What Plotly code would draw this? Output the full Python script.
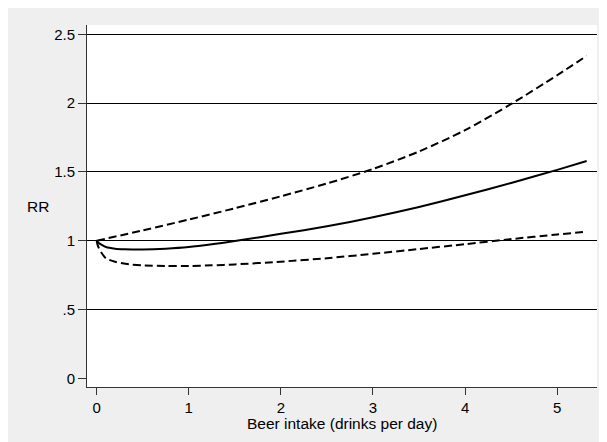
import plotly.graph_objects as go

# Beer intake (drinks per day)
x_rr = [0, 0.02, 0.05, 0.1, 0.2, 0.3, 0.5, 0.75, 1.0, 1.25, 1.5, 2.0, 2.5, 3.0, 3.5, 4.0, 4.5, 5.0, 5.32]
rr = [1.0, 0.985, 0.971, 0.954, 0.942, 0.938, 0.936, 0.942, 0.954, 0.974, 0.998, 1.05, 1.105, 1.17, 1.245, 1.33, 1.42, 1.515, 1.58]

x_lo = [0, 0.01, 0.025, 0.05, 0.1, 0.2, 0.35, 0.5, 0.75, 1.0, 1.25, 1.5, 2.0, 2.5, 3.0, 3.5, 4.0, 4.5, 5.0, 5.32]
rr_lo = [1.0, 0.97, 0.945, 0.915, 0.872, 0.847, 0.829, 0.821, 0.816, 0.816, 0.821, 0.828, 0.848, 0.873, 0.905, 0.94, 0.975, 1.012, 1.045, 1.066]

x_hi = [0, 0.5, 1.0, 1.5, 2.0, 2.5, 3.0, 3.5, 4.0, 4.5, 5.0, 5.32]
rr_hi = [1.0, 1.075, 1.154, 1.236, 1.323, 1.416, 1.522, 1.649, 1.804, 1.994, 2.203, 2.344]

y_ticks = [0, 0.5, 1, 1.5, 2, 2.5]
y_tick_text = ["0", ".5", "1", "1.5", "2", "2.5"]
y_grid = [0.5, 1, 1.5, 2, 2.5]
x_ticks = [0, 1, 2, 3, 4, 5]
x_tick_text = ["0", "1", "2", "3", "4", "5"]

FONT = "Liberation Sans, Arial, sans-serif"
XR = [-0.105, 5.432]
YR = [-0.063, 2.568]

fig = go.Figure()
fig.add_trace(go.Scatter(x=x_hi, y=rr_hi, mode="lines",
                         line=dict(color="black", width=2, dash="8px,4px", shape="spline", smoothing=0.8),
                         showlegend=False, hoverinfo="skip"))
fig.add_trace(go.Scatter(x=x_lo, y=rr_lo, mode="lines",
                         line=dict(color="black", width=2, dash="8px,4px", shape="spline", smoothing=0.6),
                         showlegend=False, hoverinfo="skip"))
fig.add_trace(go.Scatter(x=x_rr, y=rr, mode="lines",
                         line=dict(color="black", width=2, shape="spline", smoothing=0.6),
                         showlegend=False, hoverinfo="skip"))
# invisible trace to activate overlay grid axis
fig.add_trace(go.Scatter(x=[XR[0]], y=[YR[0]], yaxis="y2", mode="markers",
                         marker=dict(opacity=0), showlegend=False, hoverinfo="skip"))

fig.update_layout(
    width=607, height=442,
    margin=dict(l=79, r=18, t=17, b=63),
    paper_bgcolor="#efefef",
    plot_bgcolor="white",
    font=dict(family=FONT, size=15, color="black"),
    xaxis=dict(range=XR, tickvals=x_ticks, ticktext=x_tick_text, showgrid=False, zeroline=False,
               showline=True, linecolor="#333333", linewidth=1, ticks="outside", ticklen=7,
               tickcolor="#333333", tickwidth=1),
    yaxis=dict(range=YR, tickvals=y_ticks, ticktext=y_tick_text, showgrid=False, zeroline=False,
               showline=True, linecolor="#333333", linewidth=1, ticks="outside", ticklen=8,
               tickcolor="#333333", tickwidth=1),
    yaxis2=dict(range=YR, overlaying="y", tickvals=y_grid, showgrid=True, gridcolor="black",
                gridwidth=1.4, showticklabels=False, zeroline=False, showline=False, layer="below traces"),
    annotations=[
        dict(text="Beer intake (drinks per day)", xref="paper", yref="paper", x=0.5, y=-0.1,
             xanchor="center", yanchor="middle", showarrow=False, font=dict(size=15.5)),
        dict(text="RR", xref="paper", yref="paper", x=-0.096, y=0.5,
             xanchor="center", yanchor="middle", showarrow=False, font=dict(size=15.5)),
    ],
)

fig.write_html("out.html")
